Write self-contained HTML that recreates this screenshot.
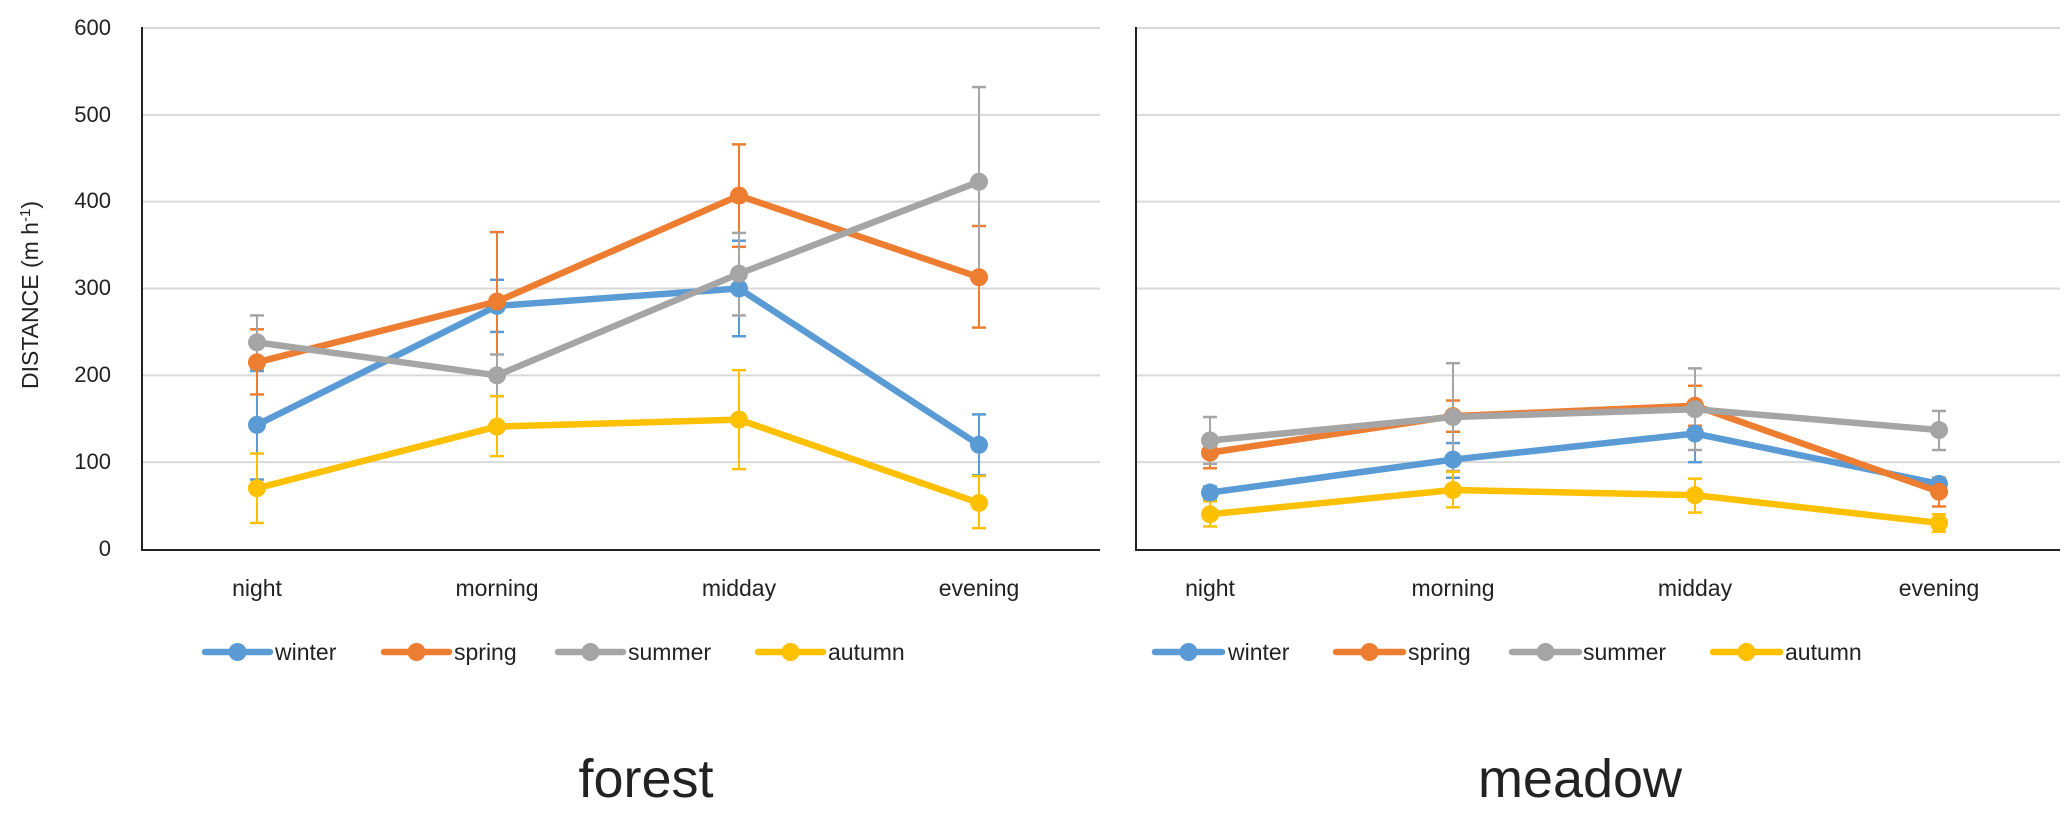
<!DOCTYPE html>
<html><head><meta charset="utf-8"><style>
html,body{margin:0;padding:0;background:#fff;}
svg{display:block;font-family:"Liberation Sans",sans-serif;}
</style></head><body>
<svg id="s" width="2067" height="815" viewBox="0 0 2067 815" xmlns="http://www.w3.org/2000/svg">
<g id="grid"></g>
<g font-size="22" fill="#222" text-anchor="end">
<text x="111" y="556">0</text><text x="111" y="469">100</text><text x="111" y="382">200</text>
<text x="111" y="295">300</text><text x="111" y="208">400</text><text x="111" y="122">500</text><text x="111" y="35">600</text>
</g>
<text transform="translate(38,295) rotate(-90)" font-size="23" fill="#222" text-anchor="middle">DISTANCE (m h<tspan dy="-8" font-size="15">-1</tspan><tspan dy="8">)</tspan></text>
<g font-size="23" fill="#222" text-anchor="middle">
<text x="257" y="596">night</text><text x="497" y="596">morning</text><text x="739" y="596">midday</text><text x="979" y="596">evening</text>
<text x="1210" y="596">night</text><text x="1453" y="596">morning</text><text x="1695" y="596">midday</text><text x="1939" y="596">evening</text>
</g>
<g id="data"></g>
<g font-size="23" fill="#222">
<text x="275" y="660">winter</text><text x="454" y="660">spring</text><text x="628" y="660">summer</text><text x="828" y="660">autumn</text>
<text x="1228" y="660">winter</text><text x="1408" y="660">spring</text><text x="1583" y="660">summer</text><text x="1785" y="660">autumn</text>
</g>
<g font-size="54" fill="#222" text-anchor="middle">
<text x="646" y="797">forest</text><text x="1580" y="797">meadow</text>
</g>
</svg>
<script>
var NS="http://www.w3.org/2000/svg";
function el(p,t,a){var e=document.createElementNS(NS,t);for(var k in a)e.setAttribute(k,a[k]);p.appendChild(e);return e;}
var g=document.getElementById('grid'),d=document.getElementById('data');
function Y(v){return 549-v*0.8683;}
for(var i=1;i<=6;i++){var y=Y(i*100);el(g,'line',{x1:142,x2:1100,y1:y,y2:y,stroke:'#d9d9d9','stroke-width':2});el(g,'line',{x1:1136,x2:2060,y1:y,y2:y,stroke:'#d9d9d9','stroke-width':2});}
el(g,'line',{x1:142,x2:142,y1:27,y2:550,stroke:'#222','stroke-width':2});
el(g,'line',{x1:141,x2:1100,y1:550,y2:550,stroke:'#222','stroke-width':2});
el(g,'line',{x1:1136,x2:1136,y1:27,y2:550,stroke:'#222','stroke-width':2});
el(g,'line',{x1:1135,x2:2060,y1:550,y2:550,stroke:'#222','stroke-width':2});
var C=['#5B9BD5','#ED7D31','#A5A5A5','#FFC000'];
var XF=[257,497,739,979],XM=[1210,1453,1695,1939];
var F=[[[143,80,205],[280,250,310],[300,245,355],[120,85,155]],
[[215,178,253],[285,205,365],[407,348,466],[313,255,372]],
[[238,208,269],[200,176,224],[317,269,364],[423,313,532]],
[[70,30,110],[141,107,176],[149,92,206],[53,24,84]]];
var M=[[[65,58,72],[103,82,122],[133,100,166],[75,68,82]],
[[111,93,130],[153,135,171],[165,142,188],[66,49,82]],
[[125,98,152],[152,90,214],[161,114,208],[137,114,159]],
[[40,26,55],[68,48,89],[62,42,81],[30,20,40]]];
function draw(X,D){
 for(var s=0;s<4;s++){for(var j=0;j<4;j++){var p=D[s][j],x=X[j];
  el(d,'line',{x1:x,x2:x,y1:Y(p[1]),y2:Y(p[2]),stroke:C[s],'stroke-width':2});
  el(d,'line',{x1:x-7,x2:x+7,y1:Y(p[1]),y2:Y(p[1]),stroke:C[s],'stroke-width':2.5});
  el(d,'line',{x1:x-7,x2:x+7,y1:Y(p[2]),y2:Y(p[2]),stroke:C[s],'stroke-width':2.5});}}
 for(var s=0;s<4;s++){var pts=D[s].map(function(p,j){return X[j]+','+Y(p[0]);}).join(' ');
  el(d,'polyline',{points:pts,fill:'none',stroke:C[s],'stroke-width':6.5,'stroke-linejoin':'round'});
  for(var j=0;j<4;j++)el(d,'circle',{cx:X[j],cy:Y(D[s][j][0]),r:9,fill:C[s]});}
}
draw(XF,F);draw(XM,M);
var L=[[205,270],[384,449],[558,623],[758,823],[1155,1222],[1336,1403],[1512,1579],[1713,1780]];
L.forEach(function(l,i){var c=C[i%4];el(d,'line',{x1:l[0],x2:l[1],y1:652,y2:652,stroke:c,'stroke-width':6.5,'stroke-linecap':'round'});el(d,'circle',{cx:(l[0]+l[1])/2,cy:652,r:9,fill:c});});
</script>
</body></html>
